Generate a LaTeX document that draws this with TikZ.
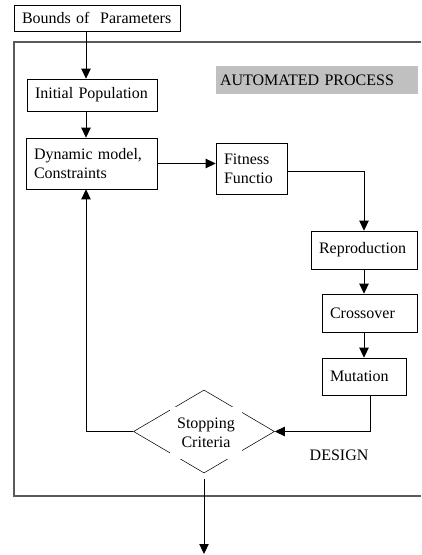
\documentclass[tikz,border=0pt]{standalone}
\usepackage{fontspec}
\setmainfont{Liberation Serif}
\usetikzlibrary{arrows.meta,shapes.geometric}
\definecolor{Shade}{HTML}{C0C0C0}
\definecolor{Rule}{HTML}{5A5A5A}
\tikzset{stage/.style={draw,align=left,inner xsep=6pt,inner ysep=0pt},
  decision/.style={draw,diamond,aspect=1.7,minimum width=105.75pt,
  minimum height=62.25pt,inner sep=0pt},
  link/.style={-{Triangle[length=7.5pt,width=7pt]},line width=0.75pt},
  frame/.style={draw=Rule,line width=0.9pt}}

\begin{document}
\begin{tikzpicture}[x=0.75pt,y=-0.75pt,font=\fontsize{12}{14}\selectfont]
\useasboundingbox (0,0) rectangle (421,555);
\draw[frame] (421,42)--(14,42)--(14,496)--(421,496);
\coordinate (spine) at (86,0);
\coordinate (exit) at (204,554);
\node[stage,text width=112.5pt,minimum height=19.5pt] (bounds) at (97,18) {Bounds of~ Parameters};
\node[fill=Shade,align=left,inner xsep=3pt,text width=145.5pt,minimum height=21pt] (auto) at (317,80) {AUTOMATED PROCESS};
\node[stage,text width=85.5pt,minimum height=24pt] (init) at (92,95) {Initial Population};
\node[stage,text width=86.25pt,minimum height=38.25pt] (dyn) at (91.5,163.5) {Dynamic model,\\Constraints};
\node[stage,text width=41.25pt,minimum height=38.25pt] (fit) at (251.5,168.5) {Fitness\\Functio};
\node[stage,text width=67.5pt,minimum height=28.5pt] (repro) at (364,250) {Reproduction};
\node[stage,text width=59.25pt,minimum height=28.5pt] (cross) at (369.5,313) {Crossover};
\node[stage,text width=51pt,minimum height=27.75pt] (mut) at (364,376.5) {Mutation};
\node[decision] (stop) at (204,431.5) {};
\node[fill=white,align=center,minimum width=54pt,minimum height=39pt,inner sep=0pt] (stoptext) at (206,433) {Stopping\\Criteria};
\node[anchor=west] (design) at (305,455) {DESIGN};
\draw[link] (bounds.south -| spine)--(init.north -| spine);
\draw[link] (init.south -| spine)--(dyn.north -| spine);
\draw[link] (dyn.east)--(dyn.east -| fit.west);
\draw[link] ([yshift=-2.5pt]fit.east)-|(repro.north);
\draw[link] (repro.south)--(cross.north -| repro.south);
\draw[link] (cross.south -| repro.south)--(mut.north);
\draw[link] ([xshift=4.5pt]mut.south)|-(stop.east);
\draw[link] (stop.west)-|(dyn.south -| spine);
\draw[link,shorten <=4pt] (stop.south)--(exit);
\end{tikzpicture}
\end{document}
